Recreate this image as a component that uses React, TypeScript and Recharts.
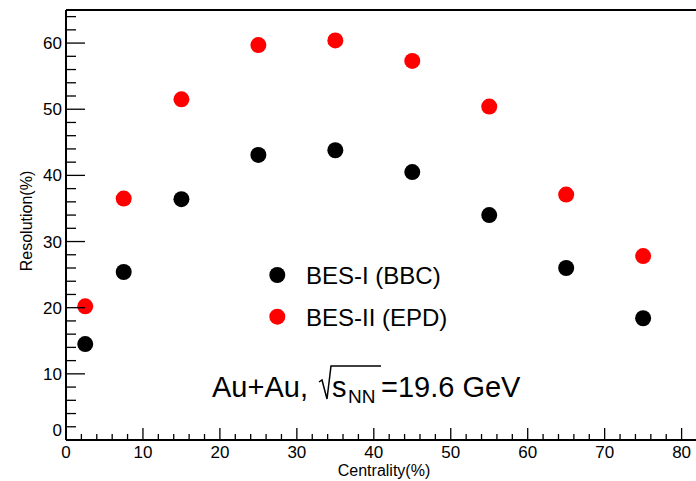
import React from "react";
import {
  ScatterChart,
  Scatter,
  XAxis,
  YAxis,
  ReferenceLine,
  Legend,
} from "recharts";

// centrality bin centres (%) and event-plane resolution (%)
const CENTRALITY = [2.5, 7.5, 15, 25, 35, 45, 55, 65, 75];
const BBC_RES = [14.5, 25.4, 36.4, 43.1, 43.8, 40.5, 34.0, 26.0, 18.4];
const EPD_RES = [20.2, 36.5, 51.5, 59.7, 60.4, 57.3, 50.4, 37.1, 27.8];

const X_TICKS = [
  0, 2, 4, 6, 8, 10, 12, 14, 16, 18, 20, 22, 24, 26, 28, 30, 32, 34, 36, 38,
  40, 42, 44, 46, 48, 50, 52, 54, 56, 58, 60, 62, 64, 66, 68, 70, 72, 74, 76,
  78, 80, 82,
];
const Y_TICKS = [
  0, 2, 4, 6, 8, 10, 12, 14, 16, 18, 20, 22, 24, 26, 28, 30, 32, 34, 36, 38,
  40, 42, 44, 46, 48, 50, 52, 54, 56, 58, 60, 62, 64,
];

const FONT = "'Liberation Sans', Arial, Helvetica, sans-serif";

const bbcData = CENTRALITY.map((x, i) => ({ x, y: BBC_RES[i] }));
const epdData = CENTRALITY.map((x, i) => ({ x, y: EPD_RES[i] }));

const Dot = (color: string) => (props: any) =>
  <circle cx={props.cx} cy={props.cy} r={8} fill={color} />;

const XTick = ({ x, y, payload }: any) => {
  const v = payload.value;
  const major = v % 10 === 0;
  return (
    <g>
      <line x1={x} y1={y} x2={x} y2={y - (major ? 12 : 6)} stroke="#000" strokeWidth={1.3} />
      {major && v <= 80 && (
        <text x={x} y={y + 18} textAnchor="middle" fontSize={17} fontFamily={FONT} fill="#000">
          {v}
        </text>
      )}
    </g>
  );
};

const YTick = ({ x, y, payload }: any) => {
  const v = payload.value;
  const major = v % 10 === 0;
  return (
    <g>
      <line x1={x} y1={y} x2={x + (major ? 19 : 10)} y2={y} stroke="#000" strokeWidth={1.3} />
      {major && (
        <text
          x={x - 4}
          y={v === 0 ? y - 4 : y + 6}
          textAnchor="end"
          fontSize={17}
          fontFamily={FONT}
          fill="#000"
        >
          {v}
        </text>
      )}
    </g>
  );
};

const renderLegend = (props: any) => {
  const items = props.payload || [];
  return (
    <svg width={260} height={90}>
      {items.map((it: any, i: number) => (
        <g key={it.value} transform={`translate(0, ${i * 41.7})`}>
          <circle cx={17.3} cy={20} r={8} fill={it.color} />
          <text x={46} y={29} fontSize={24} fontFamily={FONT} fill="#000">
            {it.value}
          </text>
        </g>
      ))}
    </svg>
  );
};

export default function App() {
  return (
    <div
      style={{
        position: "absolute",
        left: 0,
        top: 0,
        width: 696,
        height: 481,
        overflow: "hidden",
        background: "#fff",
      }}
    >
      <ScatterChart width={700} height={481} margin={{ top: 10, right: 3, bottom: 0, left: 0 }}>
        <XAxis
          type="number"
          dataKey="x"
          domain={[0, 82]}
          ticks={X_TICKS}
          interval={0}
          allowDataOverflow
          height={41}
          tickSize={0}
          tickMargin={0}
          tickLine={false}
          tick={<XTick />}
          axisLine={{ stroke: "#000", strokeWidth: 2 }}
        />
        <YAxis
          type="number"
          dataKey="y"
          domain={[0, 65]}
          ticks={Y_TICKS}
          interval={0}
          allowDataOverflow
          width={66}
          tickSize={0}
          tickMargin={0}
          tickLine={false}
          tick={<YTick />}
          axisLine={{ stroke: "#000", strokeWidth: 2 }}
        />
        <ReferenceLine y={65} stroke="#000" strokeWidth={2} />
        <ReferenceLine x={82} stroke="#000" strokeWidth={2} />
        <Legend
          layout="vertical"
          align="center"
          verticalAlign="middle"
          content={renderLegend}
          wrapperStyle={{ left: 260, top: 255, width: 260, height: 90 }}
        />
        <Scatter
          name="BES-I (BBC)"
          data={bbcData}
          fill="#000"
          shape={Dot("#000")}
          isAnimationActive={false}
        />
        <Scatter
          name="BES-II (EPD)"
          data={epdData}
          fill="#ff0000"
          shape={Dot("#ff0000")}
          isAnimationActive={false}
        />
      </ScatterChart>
      <svg
        width={696}
        height={481}
        style={{ position: "absolute", left: 0, top: 0, pointerEvents: "none" }}
      >
        <text x={384} y={476} textAnchor="middle" fontSize={16} fontFamily={FONT} fill="#000">
          Centrality(%)
        </text>
        <text
          transform="translate(32, 221) rotate(-90)"
          textAnchor="middle"
          fontSize={16}
          fontFamily={FONT}
          fill="#000"
        >
          Resolution(%)
        </text>
        <text x={212} y={397} fontSize={29} fontFamily={FONT} fill="#000">
          Au+Au,
        </text>
        <path
          d="M 319 382 L 322 380 L 327 399 L 331 366 L 381 366"
          fill="none"
          stroke="#000"
          strokeWidth={1.5}
        />
        <text x={332} y={397} fontSize={29} fontFamily={FONT} fill="#000">
          s
        </text>
        <text x={348} y={403} fontSize={19} fontFamily={FONT} fill="#000">
          NN
        </text>
        <text x={381} y={397} fontSize={29} fontFamily={FONT} fill="#000">
          =19.6 GeV
        </text>
      </svg>
    </div>
  );
}
